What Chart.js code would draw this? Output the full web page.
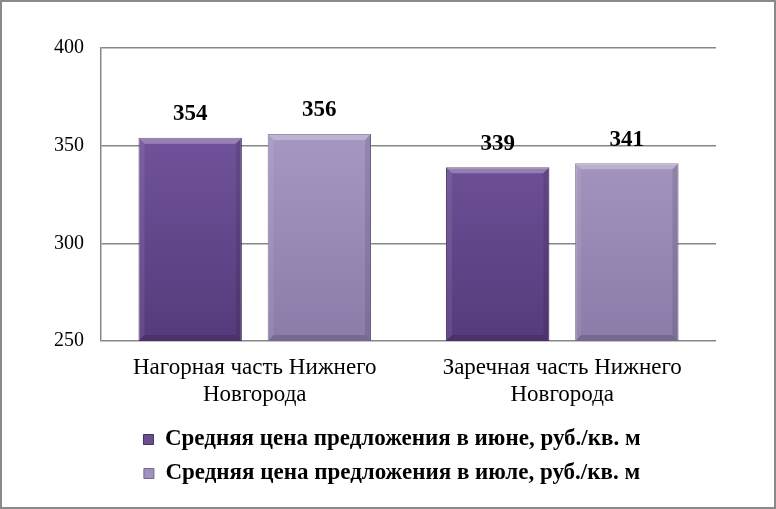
<!DOCTYPE html>
<html lang="ru">
<head>
    <meta charset="UTF-8">
    <title>Средняя цена предложения</title>
    <script src="https://cdn.jsdelivr.net/npm/chart.js@4.4.1/dist/chart.umd.min.js"></script>
    <style>
        html, body { margin: 0; padding: 0; background: #fff; }
        #wrap { width: 776px; height: 509px; position: relative; }
    </style>
</head>
<body>
    <div id="wrap"><canvas id="chart"></canvas></div>

    <script>
        // Data
        const categories = [
            ['Нагорная часть Нижнего', 'Новгорода'],
            ['Заречная часть Нижнего', 'Новгорода']
        ];
        const seriesNames = [
            'Средняя цена предложения в июне, руб./кв. м',
            'Средняя цена предложения в июле, руб./кв. м'
        ];
        const juneValues = [354, 339];
        const julyValues = [356, 341];
        const yTicks = [250, 300, 350, 400];

        const serif = "'Liberation Serif', 'Times New Roman', serif";
        const palette = [
            { top: '#7c5ca8', bottom: '#553b7b', solid: '#6a4e94', edge: '#45305f' },
            { top: '#b0a2cd', bottom: '#8b7ba8', solid: '#a091bf', edge: '#75678d' }
        ];

        function barFill(idx) {
            return (ctx) => {
                const area = ctx.chart.chartArea;
                if (!area) return palette[idx].solid;
                const g = ctx.chart.ctx.createLinearGradient(0, area.top, 0, area.bottom);
                g.addColorStop(0, palette[idx].top);
                g.addColorStop(1, palette[idx].bottom);
                return g;
            };
        }

        // value labels above bars + simple bevel
        const barDecor = {
            id: 'barDecor',
            afterDatasetsDraw(chart) {
                const c = chart.ctx;
                const area = chart.chartArea;
                chart.data.datasets.forEach((ds, di) => {
                    chart.getDatasetMeta(di).data.forEach((bar, i) => {
                        const half = bar.width / 2;
                        const l = bar.x - half, r = bar.x + half;
                        const t = bar.y, b = Math.min(bar.base, area.bottom);
                        const bev = 6;
                        c.save();
                        c.fillStyle = 'rgba(255,255,255,0.28)';
                        c.beginPath();
                        c.moveTo(l, t); c.lineTo(r, t); c.lineTo(r - bev, t + bev); c.lineTo(l + bev, t + bev);
                        c.closePath(); c.fill();
                        c.fillStyle = 'rgba(255,255,255,0.08)';
                        c.beginPath();
                        c.moveTo(l, t); c.lineTo(l + bev, t + bev); c.lineTo(l + bev, b - bev); c.lineTo(l, b);
                        c.closePath(); c.fill();
                        c.fillStyle = 'rgba(0,0,0,0.10)';
                        c.beginPath();
                        c.moveTo(r, t); c.lineTo(r - bev, t + bev); c.lineTo(r - bev, b - bev); c.lineTo(r, b);
                        c.closePath(); c.fill();
                        c.fillStyle = 'rgba(0,0,0,0.15)';
                        c.beginPath();
                        c.moveTo(l, b); c.lineTo(l + bev, b - bev); c.lineTo(r - bev, b - bev); c.lineTo(r, b);
                        c.closePath(); c.fill();

                        c.fillStyle = '#000';
                        c.font = 'bold 23px ' + serif;
                        c.textAlign = 'center';
                        c.textBaseline = 'bottom';
                        c.fillText(ds.data[i], bar.x, t - 12);
                        c.restore();
                    });
                });
            }
        };

        const frame = {
            id: 'frame',
            afterDraw(chart) {
                const c = chart.ctx;
                c.save();
                c.strokeStyle = '#8a8a8a';
                c.lineWidth = 2;
                c.strokeRect(1, 1, chart.width - 2, chart.height - 2);
                c.restore();
            }
        };

        new Chart(document.getElementById('chart'), {
            type: 'bar',
            data: {
                labels: categories,
                datasets: [
                    { label: seriesNames[0], data: juneValues, backgroundColor: barFill(0), borderColor: palette[0].edge, borderWidth: 1 },
                    { label: seriesNames[1], data: julyValues, backgroundColor: barFill(1), borderColor: palette[1].edge, borderWidth: 1 }
                ]
            },
            options: {
                responsive: true,
                maintainAspectRatio: false,
                animation: false,
                layout: { padding: { top: 48, right: 0, bottom: 14, left: 8 } },
                datasets: { bar: { categoryPercentage: 0.84, barPercentage: 0.8 } },
                plugins: {
                    tooltip: { enabled: false },
                    legend: {
                        position: 'bottom',
                        labels: {
                            font: { family: serif, size: 23, weight: 'bold' },
                            color: '#000',
                            boxWidth: 10,
                            boxHeight: 10,
                            padding: 11,
                            generateLabels: (chart) => chart.data.datasets.map((ds, i) => ({
                                text: ds.label,
                                fillStyle: palette[i].solid,
                                strokeStyle: palette[i].edge,
                                lineWidth: 1,
                                datasetIndex: i
                            }))
                        }
                    }
                },
                scales: {
                    x: {
                        grid: { display: false },
                        border: { display: false },
                        ticks: {
                            color: '#000',
                            font: { family: serif, size: 23, lineHeight: 1.15 },
                            padding: 6,
                            maxRotation: 0
                        },
                        afterFit: (s) => { s.height = 76; }
                    },
                    y: {
                        min: 250,
                        max: 400,
                        afterBuildTicks: (s) => { s.ticks = yTicks.map(v => ({ value: v })); },
                        grid: { color: '#878787', lineWidth: 1.5, drawTicks: false },
                        border: { display: true, color: '#878787', width: 1.5 },
                        ticks: {
                            color: '#000',
                            font: { family: serif, size: 20 },
                            padding: 17
                        },
                        afterFit: (s) => { s.width = 93; }
                    },
                    // empty right-hand spacer so the plot ends where the original does
                    spacer: {
                        position: 'right',
                        grid: { display: false },
                        border: { display: false },
                        ticks: { display: false },
                        afterFit: (s) => { s.width = 60; }
                    }
                }
            },
            plugins: [barDecor, frame]
        });
    </script>
</body>
</html>
